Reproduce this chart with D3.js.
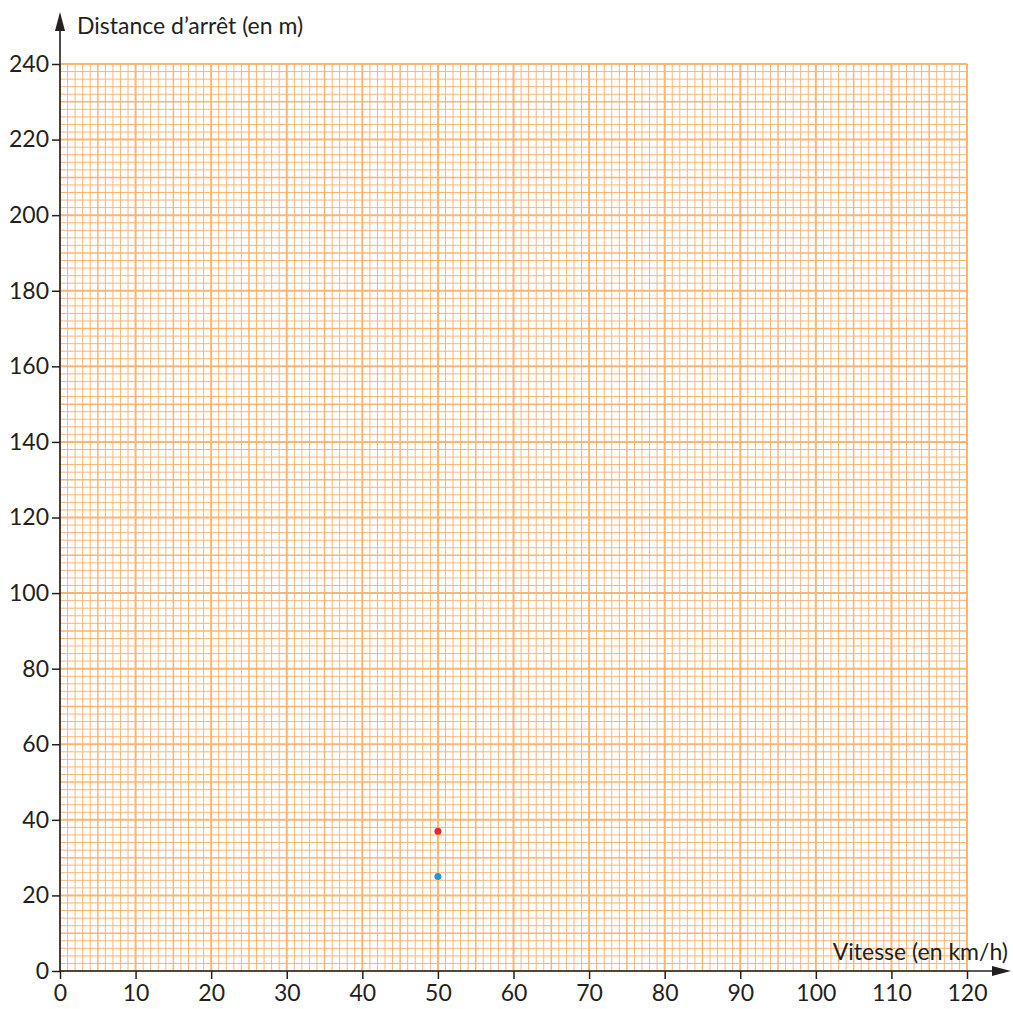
<!DOCTYPE html>
<html><head><meta charset="utf-8">
<script src="https://cdn.jsdelivr.net/npm/d3@7"></script>
<style>body{margin:0;background:#fff}svg{display:block}</style>
</head><body>
<svg id="c" width="1013" height="1009"></svg>
<script>
const xTicks = [0,10,20,30,40,50,60,70,80,90,100,110,120];
const yTicks = [0,20,40,60,80,100,120,140,160,180,200,220,240];
const pointsX = [50, 50];
const pointsY = [37, 25];
const pointColors = ["#e8262e", "#1a9ad8"];
const xLabel = "Vitesse (en km/h)";
const yLabel = "Distance d’arrêt (en m)";

const svg = d3.select("#c");
const x = d3.scaleLinear().domain([0,120]).range([60,967]);
const y = d3.scaleLinear().domain([0,240]).range([971,64]);
const orange = "#fbb674";
const g = svg.append("g");
d3.range(0,121,1).forEach(v=>{
  const w = v%10===0 ? 2 : (v%5===0 ? 1.5 : 1);
  g.append("line").attr("x1",x(v)).attr("x2",x(v)).attr("y1",y(0)).attr("y2",y(240))
   .attr("stroke",orange).attr("stroke-width",w);
});
d3.range(0,241,2).forEach(v=>{
  const w = v%20===0 ? 2 : (v%10===0 ? 1.5 : 1);
  g.append("line").attr("y1",y(v)).attr("y2",y(v)).attr("x1",x(0)).attr("x2",x(120))
   .attr("stroke",orange).attr("stroke-width",w);
});
const axisColor = "#231f20";
const font = "Lato, 'Open Sans', sans-serif";
const xa = svg.append("g").attr("transform",`translate(0,${y(0)})`)
  .call(d3.axisBottom(x).tickValues(xTicks).tickSize(8).tickPadding(6));
const ya = svg.append("g").attr("transform",`translate(${x(0)},0)`)
  .call(d3.axisLeft(y).tickValues(yTicks).tickSize(8).tickPadding(3));
[xa,ya].forEach(a=>{
  a.select(".domain").remove();
  a.selectAll("line").attr("stroke",axisColor).attr("stroke-width",1.5);
  a.selectAll("text").attr("fill",axisColor).style("font-family",font).style("font-size","23px");
});
svg.append("line").attr("x1",x(0)).attr("x2",1000).attr("y1",y(0)).attr("y2",y(0)).attr("stroke",axisColor).attr("stroke-width",1.6);
svg.append("line").attr("x1",x(0)).attr("x2",x(0)).attr("y1",y(0)).attr("y2",24).attr("stroke",axisColor).attr("stroke-width",1.6);
svg.append("path").attr("d",`M1011,${y(0)} L992,${y(0)-5} L992,${y(0)+5} Z`).attr("fill",axisColor);
svg.append("path").attr("d",`M${x(0)},12 L${x(0)-5},31 L${x(0)+5},31 Z`).attr("fill",axisColor);
svg.append("text").attr("x",77).attr("y",34).text(yLabel).attr("fill",axisColor)
  .style("font-family",font).style("font-size","23px");
svg.append("text").attr("x",1008).attr("y",960).attr("text-anchor","end").text(xLabel).attr("fill",axisColor)
  .style("font-family",font).style("font-size","23px");
svg.selectAll("circle.p").data(pointsX).enter().append("circle")
  .attr("cx",(d)=>x(d)).attr("cy",(d,i)=>y(pointsY[i])).attr("r",3.5)
  .attr("fill",(d,i)=>pointColors[i]);
</script>
</body></html>
